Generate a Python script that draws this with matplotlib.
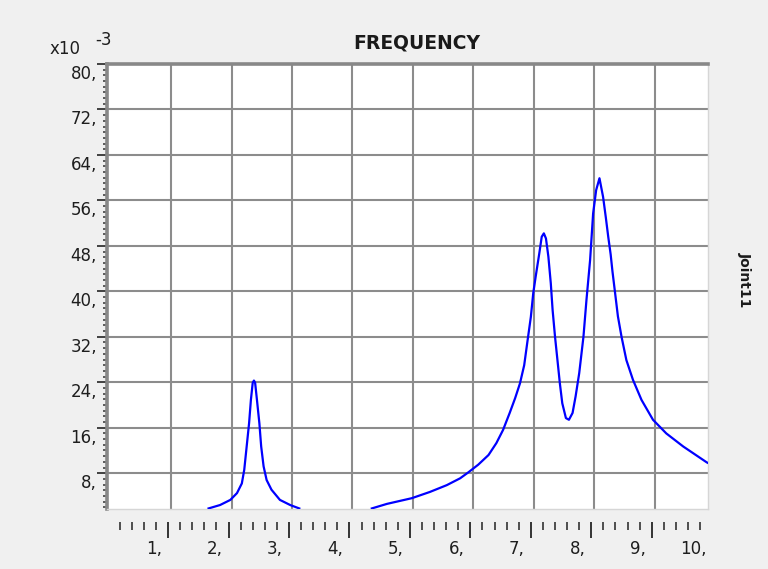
import matplotlib
matplotlib.use('Agg')
import matplotlib.pyplot as plt
from matplotlib.ticker import MultipleLocator, FixedLocator

# frequency response of Joint11, y values are in units of 1e-3
peak1_x = [1.62, 1.81, 1.98, 2.09, 2.17, 2.21, 2.25, 2.29, 2.32, 2.35, 2.37, 2.39,
           2.42, 2.46, 2.49, 2.53, 2.58, 2.66, 2.80, 2.97, 3.12]
peak1_y = [1.8, 2.4, 3.3, 4.5, 6.2, 8.6, 12.7, 16.8, 20.9, 23.9, 24.3, 23.9,
           20.9, 16.8, 12.7, 9.2, 6.8, 5.1, 3.3, 2.4, 1.8]

peak2_x = [4.32, 4.57, 4.98, 5.28, 5.56, 5.78, 5.91, 6.08, 6.25, 6.38, 6.49, 6.60,
           6.69, 6.77, 6.84, 6.89, 6.95, 6.99, 7.03, 7.09, 7.13, 7.165, 7.20, 7.24,
           7.28, 7.31, 7.35, 7.39, 7.43, 7.47, 7.53, 7.58, 7.64, 7.69, 7.75, 7.82,
           7.87, 7.93, 7.98, 8.03, 8.085, 8.145, 8.19, 8.23, 8.27, 8.30, 8.34, 8.39,
           8.45, 8.53, 8.64, 8.78, 8.97, 9.19, 9.47, 9.86, 9.90]
peak2_y = [1.8, 2.6, 3.6, 4.7, 5.9, 7.1, 8.1, 9.5, 11.2, 13.3, 15.6, 18.6,
           21.2, 23.8, 27.0, 30.9, 35.5, 39.7, 42.6, 46.7, 49.6, 50.2, 49.3, 46.1,
           41.4, 36.7, 32.0, 27.9, 23.8, 20.3, 17.7, 17.4, 18.6, 21.5, 25.6, 32.0,
           38.5, 45.5, 53.7, 57.8, 59.9, 56.6, 53.0, 49.6, 46.5, 43.5, 40.0, 35.6,
           32.0, 27.9, 24.4, 20.9, 17.4, 15.0, 12.7, 9.9, 9.7]

y_ticks = [8, 16, 24, 32, 40, 48, 56, 64, 72, 80]
y_labels = ['8,', '16,', '24,', '32,', '40,', '48,', '56,', '64,', '72,', '80,']
x_ticks = [1, 2, 3, 4, 5, 6, 7, 8, 9, 10]
x_labels = ['1,', '2,', '3,', '4,', '5,', '6,', '7,', '8,', '9,', '10,']

W, H = 768, 569
fig = plt.figure(figsize=(W / 100, H / 100), dpi=100)
fig.patch.set_facecolor('#f0f0f0')

ax = fig.add_axes([107 / W, 1 - 509 / H, 601 / W, 445 / H])
ax.set_facecolor('white')
ax.set_xlim(-0.06, 9.88)
ax.set_ylim(1.7, 80)

ax.plot(peak1_x, peak1_y, color='#0000ff', lw=1.6, zorder=3)
ax.plot(peak2_x, peak2_y, color='#0000ff', lw=1.6, zorder=3)

# grid
ax.set_xticks(x_ticks[:-1])
ax.yaxis.set_major_locator(FixedLocator(y_ticks))
ax.yaxis.set_minor_locator(MultipleLocator(1))
ax.set_axisbelow(True)
ax.grid(True, color='#8c8c8c', lw=1.5)
ax.tick_params(axis='x', length=0, labelbottom=False)
ax.tick_params(axis='y', which='major', direction='out', length=7.2, width=1.3,
               color='#333333', labelleft=False)
ax.tick_params(axis='y', which='minor', direction='out', length=3, width=1.1,
               color='#333333')

for s in ['top', 'left']:
    ax.spines[s].set_color('#888888')
    ax.spines[s].set_linewidth(2.6)
for s in ['right', 'bottom']:
    ax.spines[s].set_color('#d6d6d6')
    ax.spines[s].set_linewidth(1)

for v, lab in zip(y_ticks, y_labels):
    ax.annotate(lab, xy=(0, v), xycoords=('axes fraction', 'data'),
                xytext=(-10, -1), textcoords='offset pixels', ha='right', va='top',
                fontsize=12, color='#1e1e1e', annotation_clip=False)

# detached x tick strip below the plot
axt = fig.add_axes([107 / W, 1 - 522 / H, 601 / W, 1 / H])
axt.set_xlim(-0.06 + 0.05, 9.88 + 0.05)
axt.patch.set_visible(False)
for s in axt.spines.values():
    s.set_visible(False)
axt.set_yticks([])
axt.xaxis.set_major_locator(FixedLocator(x_ticks))
axt.xaxis.set_minor_locator(FixedLocator([i / 5 for i in range(1, 50) if i % 5]))
axt.tick_params(axis='x', which='major', direction='out', length=11.5, width=1.4,
                color='#333333', labelbottom=False)
axt.tick_params(axis='x', which='minor', direction='out', length=6, width=1.2,
                color='#333333')
for v, lab in zip(x_ticks, x_labels):
    axt.annotate(lab, xy=(v, 0), xycoords=('data', 'axes fraction'),
                 xytext=(-6, -18), textcoords='offset pixels', ha='right', va='top',
                 fontsize=12, color='#1e1e1e', annotation_clip=False)

fig.text(417 / W, 1 - 43 / H, 'FREQUENCY', ha='center', va='center',
         fontsize=13.5, fontweight='bold', color='#1a1a1a')
fig.text(65 / W, 1 - 49 / H, 'x10', ha='center', va='center', fontsize=12,
         color='#1e1e1e')
fig.text(104 / W, 1 - 40 / H, '-3', ha='center', va='center', fontsize=12,
         color='#1e1e1e')
fig.text(745 / W, 1 - 280 / H, 'Joint11', ha='center', va='center', rotation=270,
         fontsize=10, fontweight='bold', color='#1a1a1a')

fig.savefig('out.png', dpi=100, facecolor=fig.get_facecolor())
